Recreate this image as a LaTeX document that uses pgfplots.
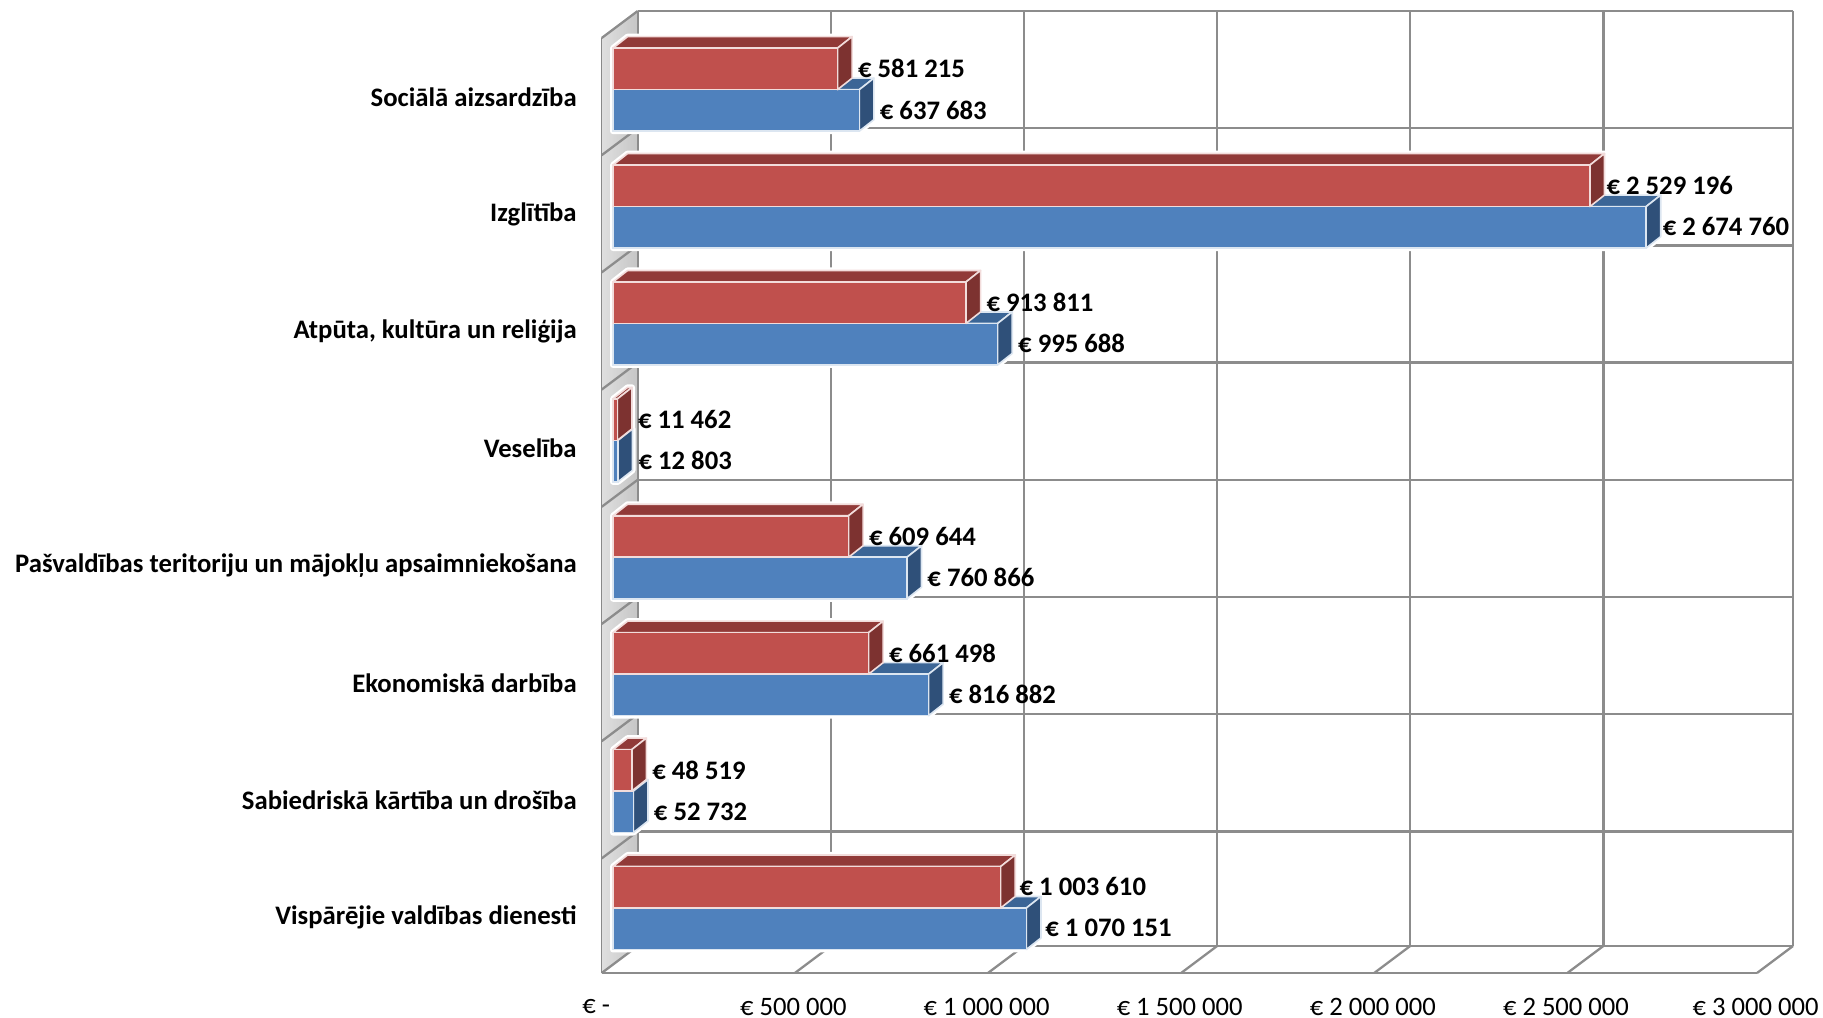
\documentclass[border=0pt]{standalone}
\usepackage{pgfplots}
\pgfplotsset{compat=1.18}
\usepackage{fontspec}
\setmainfont{Carlito}
\definecolor{gridg}{HTML}{8C8C8C}
\definecolor{blueF}{HTML}{4F81BD}
\definecolor{blueS}{HTML}{2F5079}
\definecolor{blueT}{HTML}{3B6596}
\definecolor{redF}{HTML}{C0504D}
\definecolor{redS}{HTML}{7D3230}
\definecolor{redT}{HTML}{913A38}
\definecolor{edgeB}{HTML}{DCE6F1}
\definecolor{edgeR}{HTML}{F2DCDB}
% value, category, top offset (pt)
\newcommand\halo[3]{%
  \draw[white,fill=white,line width=3pt,line join=round,xshift=5.65pt,yshift=4.5pt]
   ([shift={(0pt,#3pt)}]axis cs:0,#2)
   -- ([shift={(7.3pt,#3pt+5.75pt)}]axis cs:0,#2)
   -- ([shift={(7.3pt,#3pt+5.75pt)}]axis cs:#1,#2)
   -- ([shift={(7.3pt,#3pt+5.75pt-20.75pt)}]axis cs:#1,#2)
   -- ([shift={(0pt,#3pt-20.75pt)}]axis cs:#1,#2)
   -- ([shift={(0pt,#3pt-20.75pt)}]axis cs:0,#2) -- cycle;}
% value, category, top offset (pt), side, top, edge
\newcommand\faces[6]{%
  \draw[fill=#5,draw=#6,line width=0.8pt,line join=round,xshift=5.65pt,yshift=4.5pt]
   ([shift={(0pt,#3pt)}]axis cs:0,#2)
   -- ([shift={(7.3pt,#3pt+5.75pt)}]axis cs:0,#2)
   -- ([shift={(7.3pt,#3pt+5.75pt)}]axis cs:#1,#2)
   -- ([shift={(0pt,#3pt)}]axis cs:#1,#2) -- cycle;
  \draw[fill=#4,draw=#6,line width=0.8pt,line join=round,xshift=5.65pt,yshift=4.5pt]
   ([shift={(0pt,#3pt)}]axis cs:#1,#2)
   -- ([shift={(7.3pt,#3pt+5.75pt)}]axis cs:#1,#2)
   -- ([shift={(7.3pt,#3pt+5.75pt-20.75pt)}]axis cs:#1,#2)
   -- ([shift={(0pt,#3pt-20.75pt)}]axis cs:#1,#2) -- cycle;}
\newcommand\wallpart[1]{%
  \draw[gridg,line width=1.15pt] (axis cs:0,#1) -- ([shift={(18pt,13.5pt)}]axis cs:0,#1);}
\newcommand\floorpart[1]{%
  \draw[gridg,line width=1.15pt] (axis cs:#1,-0.478) -- ([shift={(18pt,13.5pt)}]axis cs:#1,-0.478);}
\begin{document}
\begin{tikzpicture}[x=1pt,y=1pt]
\path[use as bounding box] (0,0) rectangle (911.5pt,508.5pt);
\begin{axis}[
  at={(300.85pt,22pt)},anchor=south west,
  scale only axis,width=577.65pt,height=467.5pt,
  xmin=0,xmax=2991000,ymin=-0.478,ymax=7.5,clip=false,
  axis x line*=bottom,axis y line*=left,
  axis line style={gridg,line width=1.15pt,-},
  tick style={draw=none},
  major tick length=0pt,minor tick length=0pt,
  scaled x ticks=false,
  xtick={0,500000,1000000,1500000,2000000,2500000,2991000},
  xticklabels={€ -\rule{4pt}{0pt},€ 500 000,€ 1 000 000,€ 1 500 000,€ 2 000 000,€ 2 500 000,€ 3 000 000},
  ytick={0,1,2,3,4,5,6,7},
  minor ytick={-0.478,0.5,1.5,2.5,3.5,4.5,5.5,6.5,7.5},
  yticklabels={Vispārējie valdības dienesti,Sabiedriskā kārtība un drošība,Ekonomiskā darbība,Pašvaldības teritoriju un mājokļu apsaimniekošana,Veselība,{Atpūta, kultūra un reliģija},Izglītība,Sociālā aizsardzība},
  yticklabel style={font=\fontsize{13.35}{15}\selectfont\bfseries,anchor=east,xshift=-9pt,yshift=-0.25pt},
  xticklabel style={font=\fontsize{13.3}{15}\selectfont,anchor=center,yshift=-16.8pt,xshift=-0.7pt},
  xmajorgrids=true,yminorgrids=true,ymajorgrids=false,
  major grid style={gridg,line width=1.15pt,xshift=18pt,yshift=13.5pt},
  minor grid style={gridg,line width=1.15pt,xshift=18pt,yshift=13.5pt},
  xbar,bar width=20.75pt,
  point meta=explicit symbolic,
  nodes near coords,
  nodes near coords align={anchor=west},
  every node near coord/.append style={font=\fontsize{13.35}{15}\selectfont\bfseries,black,inner sep=0pt,xshift=9.9pt,yshift=0.2pt},
]
% left wall
\fill[left color=gray!25,middle color=gray!65,right color=gray!45]
  (axis cs:0,-0.478) -- ([shift={(18pt,13.5pt)}]axis cs:0,-0.478)
  -- ([shift={(18pt,13.5pt)}]axis cs:0,7.5) -- (axis cs:0,7.5) -- cycle;
\draw[gridg,line width=1.15pt] ([shift={(18pt,13.5pt)}]axis cs:0,-0.478) -- ([shift={(18pt,13.5pt)}]axis cs:0,7.5);
\wallpart{-0.478}\wallpart{0.5}\wallpart{1.5}\wallpart{2.5}\wallpart{3.5}\wallpart{4.5}\wallpart{5.5}\wallpart{6.5}\wallpart{7.5}
\floorpart{500000}\floorpart{1000000}\floorpart{1500000}\floorpart{2000000}\floorpart{2500000}\floorpart{2991000}
% white glow
\halo{1070151}{0}{0}\halo{1003610}{0}{20.75}
\halo{52732}{0.9975}{0}\halo{48519}{0.9975}{20.75}
\halo{816882}{1.995}{0}\halo{661498}{1.995}{20.75}
\halo{760866}{2.9925}{0}\halo{609644}{2.9925}{20.75}
\halo{12803}{3.99}{0}\halo{11462}{3.99}{20.75}
\halo{995688}{4.9875}{0}\halo{913811}{4.9875}{20.75}
\halo{2674760}{5.985}{0}\halo{2529196}{5.985}{20.75}
\halo{637683}{6.9825}{0}\halo{581215}{6.9825}{20.75}
% blue series
\faces{1070151}{0}{0}{blueS}{blueT}{edgeB}
\faces{52732}{0.9975}{0}{blueS}{blueT}{edgeB}
\faces{816882}{1.995}{0}{blueS}{blueT}{edgeB}
\faces{760866}{2.9925}{0}{blueS}{blueT}{edgeB}
\faces{12803}{3.99}{0}{blueS}{blueT}{edgeB}
\faces{995688}{4.9875}{0}{blueS}{blueT}{edgeB}
\faces{2674760}{5.985}{0}{blueS}{blueT}{edgeB}
\faces{637683}{6.9825}{0}{blueS}{blueT}{edgeB}
\addplot[xbar,bar shift=-10.375pt,fill=blueF,draw=edgeB,line width=0.8pt,xshift=5.65pt,yshift=4.5pt] coordinates {
 (1070151,0) [\kern-0.8pt € 1 070 151]
 (52732,0.9975) [€ 52 732]
 (816882,1.995) [€ 816 882]
 (760866,2.9925) [€ 760 866]
 (12803,3.99) [€ 12 803]
 (995688,4.9875) [€ 995 688]
 (2674760,5.985) [\kern-2pt € 2 674 760]
 (637683,6.9825) [€ 637 683]
};
% red series
\faces{1003610}{0}{20.75}{redS}{redT}{edgeR}
\faces{48519}{0.9975}{20.75}{redS}{redT}{edgeR}
\faces{661498}{1.995}{20.75}{redS}{redT}{edgeR}
\faces{609644}{2.9925}{20.75}{redS}{redT}{edgeR}
\faces{11462}{3.99}{20.75}{redS}{redT}{edgeR}
\faces{913811}{4.9875}{20.75}{redS}{redT}{edgeR}
\faces{2529196}{5.985}{20.75}{redS}{redT}{edgeR}
\faces{581215}{6.9825}{20.75}{redS}{redT}{edgeR}
\addplot[xbar,bar shift=10.375pt,fill=redF,draw=edgeR,line width=0.8pt,xshift=5.65pt,yshift=4.5pt] coordinates {
 (1003610,0) [\kern-0.8pt € 1 003 610]
 (48519,0.9975) [€ 48 519]
 (661498,1.995) [€ 661 498]
 (609644,2.9925) [€ 609 644]
 (11462,3.99) [€ 11 462]
 (913811,4.9875) [€ 913 811]
 (2529196,5.985) [\kern-2pt € 2 529 196]
 (581215,6.9825) [€ 581 215]
};
\end{axis}
\end{tikzpicture}
\end{document}
